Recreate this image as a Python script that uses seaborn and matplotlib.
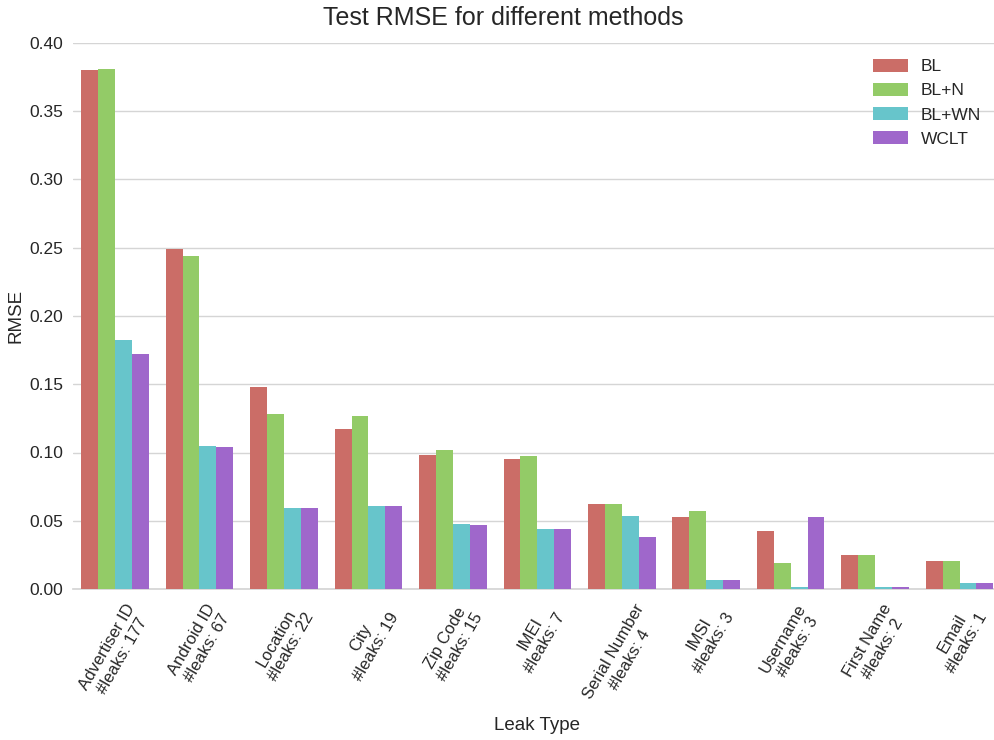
import numpy as np
import pandas as pd
import matplotlib
matplotlib.use("Agg")
import matplotlib.pyplot as plt
import seaborn as sns

# Leak types and how many leaks of each type were found
leak_types = ["Advertiser ID", "Android ID", "Location", "City", "Zip Code", "IMEI",
              "Serial Number", "IMSI", "Username", "First Name", "Email"]
leak_counts = [177, 67, 22, 19, 15, 7, 4, 3, 3, 2, 1]

methods = ["BL", "BL+N", "BL+WN", "WCLT"]

# Test RMSE per method, one value per leak type
rmse_bl = [0.380, 0.249, 0.148, 0.117, 0.0985, 0.0956, 0.062, 0.0531, 0.0428, 0.0252, 0.0208]
rmse_bl_n = [0.381, 0.244, 0.128, 0.1265, 0.1015, 0.0978, 0.062, 0.0568, 0.0193, 0.0252, 0.0208]
rmse_bl_wn = [0.1825, 0.105, 0.059, 0.0605, 0.0473, 0.0437, 0.0532, 0.0068, 0.0012, 0.0012, 0.0046]
rmse_wclt = [0.172, 0.1043, 0.059, 0.0605, 0.0466, 0.0437, 0.0378, 0.0068, 0.0531, 0.0012, 0.0046]

labels = [f"{t}\n#leaks: {c}" for t, c in zip(leak_types, leak_counts)]
series = [rmse_bl, rmse_bl_n, rmse_bl_wn, rmse_wclt]

df = pd.DataFrame({
    "Leak Type": np.tile(labels, len(methods)),
    "Method": np.repeat(methods, len(labels)),
    "RMSE": np.concatenate(series),
})

sns.set_theme(style="whitegrid")
plt.rcParams["font.family"] = ["Liberation Sans", "DejaVu Sans"]
plt.rcParams["grid.color"] = "#d5d5d5"
plt.rcParams["axes.edgecolor"] = "#d5d5d5"

W, H = 994, 740
fig = plt.figure(figsize=(W / 100, H / 100), dpi=100)
ax_left, ax_right, ax_top, ax_bottom = 72.8, 1001.8, 43, 589
ax = fig.add_axes([ax_left / W, 1 - ax_bottom / H,
                   (ax_right - ax_left) / W, (ax_bottom - ax_top) / H])

sns.barplot(data=df, x="Leak Type", y="RMSE", hue="Method", order=labels,
            hue_order=methods, palette="hls", linewidth=0, ax=ax)
for p in ax.patches:
    p.set_zorder(3)

yt = np.arange(0, 0.401, 0.05)
ax.set_ylim(0, 0.40)
ax.set_yticks(yt)
ax.set_yticklabels([f"{v:.2f}" for v in yt], fontsize=12.5, color="#262626")
ax.tick_params(axis="y", pad=1)
ax.tick_params(axis="x", labelsize=12, labelcolor="#262626", rotation=60, pad=3)
for lab in ax.get_xticklabels():
    lab.set_ha("center")
ax.set_xlabel("Leak Type", fontsize=13.5, color="#262626", labelpad=5)
ax.set_ylabel("RMSE", fontsize=13.5, color="#262626", labelpad=3)
title = ax.set_title("Test RMSE for different methods", fontsize=18, color="#262626", pad=13)
title.set_x((503 - ax_left) / (ax_right - ax_left))
sns.despine(ax=ax, left=True)
ax.spines["bottom"].set_zorder(2)

ax.legend(loc="upper left", frameon=False, fontsize=12.5,
          bbox_to_anchor=(866 / W, 1 - 52 / H), bbox_transform=fig.transFigure,
          borderaxespad=0, handlelength=2.0, handleheight=0.75,
          labelspacing=0.5, handletextpad=0.75)

fig.savefig("out.png", dpi=100)
